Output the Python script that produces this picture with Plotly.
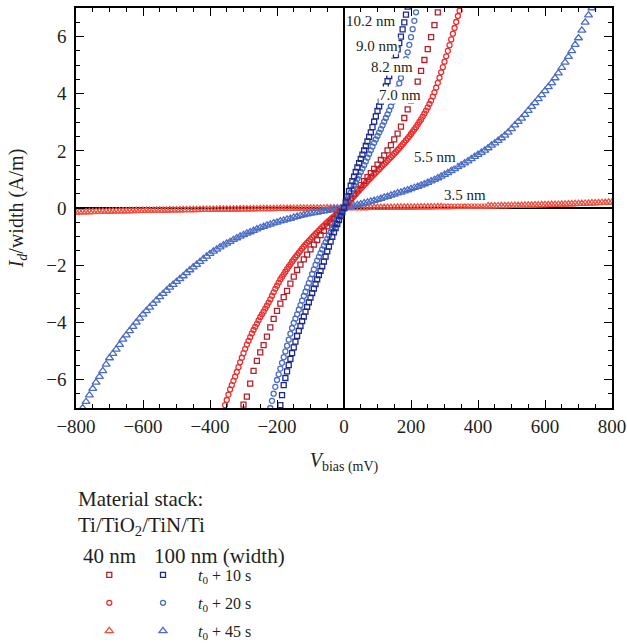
import plotly.graph_objects as go

# ---------------- data ----------------
# 40 nm width, t0 + 10 s  (8.2 nm)
v_40_10s = [-300, -290, -280, -270, -260, -250, -240, -230, -220, -210,
            -200, -190, -180, -170, -160, -150, -140, -130, -120, -110,
            -100, -90, -80, -70, -60, -50, -40, -30, -20, -10,
            0, 10, 20, 30, 40, 50, 60, 70, 80, 90,
            100, 110, 120, 130, 140, 150, 160, 170, 180, 190,
            200, 210, 220, 230, 240, 250, 260, 270, 280]
i_40_10s = [-6.88, -6.6, -6.15, -5.7, -5.35, -5.05, -4.8, -4.5, -4.18, -3.88,
            -3.6, -3.35, -3.12, -2.9, -2.65, -2.4, -2.17, -1.98, -1.8, -1.63,
            -1.45, -1.28, -1.12, -0.95, -0.8, -0.64, -0.51, -0.38, -0.25, -0.12,
            0, 0.17, 0.34, 0.5, 0.65, 0.8, 0.94, 1.08, 1.22, 1.37,
            1.52, 1.68, 1.84, 2.02, 2.2, 2.4, 2.6, 2.85, 3.15, 3.45,
            3.75, 4.07, 4.42, 4.8, 5.18, 5.56, 5.98, 6.4, 6.85]

# 40 nm width, t0 + 20 s  (7.0 nm)
v_40_20s = [-360, -355, -350, -345, -340, -335, -330, -325, -320, -315,
            -310, -305, -300, -295, -290, -285, -280, -275, -270, -265,
            -260, -255, -250, -245, -240, -235, -230, -225, -220, -215,
            -210, -205, -200, -195, -190, -185, -180, -175, -170, -165,
            -160, -155, -150, -145, -140, -135, -130, -125, -120, -115,
            -110, -105, -100, -95, -90, -85, -80, -75, -70, -65,
            -60, -55, -50, -45, -40, -35, -30, -25, -20, -15,
            -10, -5, 0, 5, 10, 15, 20, 25, 30, 35,
            40, 45, 50, 55, 60, 65, 70, 75, 80, 85,
            90, 95, 100, 105, 110, 115, 120, 125, 130, 135,
            140, 145, 150, 155, 160, 165, 170, 175, 180, 185,
            190, 195, 200, 205, 210, 215, 220, 225, 230, 235,
            240, 245, 250, 255, 260, 265, 270, 275, 280, 285,
            290, 295, 300, 305, 310, 315, 320, 325, 330, 335,
            340, 345, 350]
i_40_20s = [-7.1, -6.9, -6.72, -6.53, -6.35, -6.2, -6.05, -5.9, -5.74, -5.57,
            -5.4, -5.24, -5.08, -4.93, -4.78, -4.65, -4.52, -4.39, -4.27, -4.16,
            -4.05, -3.93, -3.82, -3.72, -3.63, -3.52, -3.42, -3.31, -3.2, -3.07,
            -2.95, -2.83, -2.72, -2.61, -2.5, -2.41, -2.32, -2.23, -2.14, -2.05,
            -1.97, -1.88, -1.8, -1.72, -1.65, -1.57, -1.5, -1.42, -1.35, -1.28,
            -1.22, -1.16, -1.1, -1.03, -0.97, -0.91, -0.85, -0.79, -0.73, -0.67,
            -0.62, -0.56, -0.5, -0.45, -0.4, -0.35, -0.3, -0.25, -0.2, -0.15,
            -0.1, -0.05, 0, 0.07, 0.14, 0.21, 0.28, 0.35, 0.42, 0.48,
            0.55, 0.61, 0.68, 0.74, 0.81, 0.87, 0.94, 1.0, 1.06, 1.12,
            1.18, 1.24, 1.3, 1.36, 1.42, 1.48, 1.54, 1.6, 1.66, 1.72,
            1.78, 1.84, 1.9, 1.96, 2.03, 2.09, 2.16, 2.23, 2.3, 2.37,
            2.44, 2.51, 2.59, 2.67, 2.75, 2.83, 2.92, 3.01, 3.1, 3.2,
            3.3, 3.41, 3.52, 3.64, 3.76, 3.9, 4.05, 4.21, 4.38, 4.56,
            4.75, 4.93, 5.12, 5.31, 5.5, 5.7, 5.9, 6.1, 6.3, 6.51,
            6.72, 6.91, 7.1]

# 40 nm width, t0 + 45 s  (3.5 nm)
v_40_45s = [-800, -790, -780, -770, -760, -750, -740, -730, -720, -710,
            -700, -690, -680, -670, -660, -650, -640, -630, -620, -610,
            -600, -590, -580, -570, -560, -550, -540, -530, -520, -510,
            -500, -490, -480, -470, -460, -450, -440, -430, -420, -410,
            -400, -390, -380, -370, -360, -350, -340, -330, -320, -310,
            -300, -290, -280, -270, -260, -250, -240, -230, -220, -210,
            -200, -190, -180, -170, -160, -150, -140, -130, -120, -110,
            -100, -90, -80, -70, -60, -50, -40, -30, -20, -10,
            0, 10, 20, 30, 40, 50, 60, 70, 80, 90,
            100, 110, 120, 130, 140, 150, 160, 170, 180, 190,
            200, 210, 220, 230, 240, 250, 260, 270, 280, 290,
            300, 310, 320, 330, 340, 350, 360, 370, 380, 390,
            400, 410, 420, 430, 440, 450, 460, 470, 480, 490,
            500, 510, 520, 530, 540, 550, 560, 570, 580, 590,
            600, 610, 620, 630, 640, 650, 660, 670, 680, 690,
            700, 710, 720, 730, 740, 750, 760, 770, 780, 790,
            800]
i_40_45s = [-0.15, -0.146, -0.143, -0.14, -0.136, -0.133, -0.13, -0.127, -0.124, -0.121,
            -0.118, -0.115, -0.112, -0.11, -0.107, -0.105, -0.102, -0.1, -0.097, -0.095,
            -0.092, -0.09, -0.088, -0.086, -0.084, -0.082, -0.08, -0.078, -0.076, -0.074,
            -0.072, -0.07, -0.068, -0.066, -0.065, -0.063, -0.061, -0.06, -0.058, -0.056,
            -0.055, -0.053, -0.052, -0.05, -0.049, -0.047, -0.046, -0.044, -0.043, -0.041,
            -0.04, -0.038, -0.037, -0.035, -0.034, -0.032, -0.031, -0.029, -0.028, -0.026,
            -0.025, -0.023, -0.022, -0.021, -0.02, -0.018, -0.017, -0.015, -0.014, -0.013,
            -0.012, -0.011, -0.01, -0.008, -0.007, -0.006, -0.005, -0.003, -0.002, -0.001,
            0, 0.001, 0.002, 0.004, 0.005, 0.006, 0.007, 0.009, 0.01, 0.011,
            0.012, 0.013, 0.014, 0.016, 0.017, 0.019, 0.02, 0.021, 0.022, 0.024,
            0.025, 0.027, 0.028, 0.03, 0.031, 0.033, 0.034, 0.036, 0.037, 0.039,
            0.04, 0.042, 0.043, 0.045, 0.047, 0.048, 0.05, 0.052, 0.054, 0.056,
            0.058, 0.06, 0.062, 0.064, 0.066, 0.068, 0.071, 0.073, 0.075, 0.078,
            0.08, 0.083, 0.085, 0.088, 0.091, 0.094, 0.097, 0.1, 0.103, 0.107,
            0.11, 0.114, 0.117, 0.121, 0.124, 0.128, 0.132, 0.136, 0.14, 0.145,
            0.15, 0.154, 0.159, 0.164, 0.169, 0.174, 0.179, 0.185, 0.19, 0.195,
            0.2]

# 100 nm width, t0 + 10 s  (10.2 nm)
v_100_10s = [-200, -195, -190, -185, -180, -175, -170, -165, -160, -155,
             -150, -145, -140, -135, -130, -125, -120, -115, -110, -105,
             -100, -95, -90, -85, -80, -75, -70, -65, -60, -55,
             -50, -45, -40, -35, -30, -25, -20, -15, -10, -5,
             0, 5, 10, 15, 20, 25, 30, 35, 40, 45,
             50, 55, 60, 65, 70, 75, 80, 85, 90, 95,
             100, 105, 110, 115, 120, 125, 130, 135, 140, 145,
             150, 155, 160, 165, 170, 175, 180, 185, 190]
i_100_10s = [-7.4, -7.15, -6.9, -6.55, -6.2, -5.95, -5.72, -5.5, -5.28, -5.08,
             -4.88, -4.68, -4.48, -4.3, -4.13, -3.96, -3.8, -3.63, -3.46, -3.3,
             -3.14, -2.98, -2.82, -2.66, -2.5, -2.35, -2.2, -2.04, -1.88, -1.7,
             -1.52, -1.35, -1.18, -1.01, -0.85, -0.7, -0.56, -0.42, -0.28, -0.14,
             0, 0.2, 0.4, 0.59, 0.78, 0.94, 1.1, 1.26, 1.42, 1.57,
             1.72, 1.87, 2.02, 2.17, 2.33, 2.49, 2.65, 2.83, 3.02, 3.21,
             3.4, 3.56, 3.72, 3.9, 4.08, 4.26, 4.44, 4.62, 4.8, 4.97,
             5.15, 5.35, 5.55, 5.77, 6.0, 6.25, 6.5, 6.77, 7.05]

# 100 nm width, t0 + 20 s  (9.0 nm)
v_100_20s = [-220, -215, -210, -205, -200, -195, -190, -185, -180, -175,
             -170, -165, -160, -155, -150, -145, -140, -135, -130, -125,
             -120, -115, -110, -105, -100, -95, -90, -85, -80, -75,
             -70, -65, -60, -55, -50, -45, -40, -35, -30, -25,
             -20, -15, -10, -5, 0, 5, 10, 15, 20, 25,
             30, 35, 40, 45, 50, 55, 60, 65, 70, 75,
             80, 85, 90, 95, 100, 105, 110, 115, 120, 125,
             130, 135, 140, 145, 150, 155, 160, 165, 170, 175,
             180, 185, 190, 195, 200, 205, 210, 215, 220]
i_100_20s = [-7.0, -6.75, -6.5, -6.26, -6.02, -5.82, -5.62, -5.42, -5.22, -5.02,
             -4.82, -4.61, -4.4, -4.2, -4.02, -3.87, -3.72, -3.56, -3.4, -3.24,
             -3.08, -2.93, -2.78, -2.63, -2.48, -2.31, -2.15, -1.99, -1.84, -1.71,
             -1.58, -1.45, -1.32, -1.2, -1.08, -0.96, -0.85, -0.74, -0.63, -0.52,
             -0.41, -0.3, -0.2, -0.1, 0, 0.14, 0.28, 0.41, 0.54, 0.66,
             0.78, 0.9, 1.02, 1.14, 1.26, 1.38, 1.5, 1.63, 1.76, 1.89,
             2.02, 2.15, 2.28, 2.4, 2.52, 2.64, 2.76, 2.89, 3.02, 3.15,
             3.28, 3.42, 3.56, 3.71, 3.86, 4.02, 4.18, 4.36, 4.55, 4.76,
             4.98, 5.21, 5.45, 5.71, 5.98, 6.26, 6.55, 6.85, 7.15]

# 100 nm width, t0 + 45 s  (5.5 nm)
v_100_45s = [-780, -770, -760, -750, -740, -730, -720, -710, -700, -690,
             -680, -670, -660, -650, -640, -630, -620, -610, -600, -590,
             -580, -570, -560, -550, -540, -530, -520, -510, -500, -490,
             -480, -470, -460, -450, -440, -430, -420, -410, -400, -390,
             -380, -370, -360, -350, -340, -330, -320, -310, -300, -290,
             -280, -270, -260, -250, -240, -230, -220, -210, -200, -190,
             -180, -170, -160, -150, -140, -130, -120, -110, -100, -90,
             -80, -70, -60, -50, -40, -30, -20, -10, 0, 10,
             20, 30, 40, 50, 60, 70, 80, 90, 100, 110,
             120, 130, 140, 150, 160, 170, 180, 190, 200, 210,
             220, 230, 240, 250, 260, 270, 280, 290, 300, 310,
             320, 330, 340, 350, 360, 370, 380, 390, 400, 410,
             420, 430, 440, 450, 460, 470, 480, 490, 500, 510,
             520, 530, 540, 550, 560, 570, 580, 590, 600, 610,
             620, 630, 640, 650, 660, 670, 680, 690, 700, 710,
             720, 730, 740]
i_100_45s = [-7.0, -6.78, -6.55, -6.32, -6.1, -5.9, -5.7, -5.47, -5.25, -5.1,
             -4.95, -4.78, -4.6, -4.45, -4.3, -4.15, -4.0, -3.86, -3.72, -3.6,
             -3.48, -3.35, -3.23, -3.11, -3.0, -2.89, -2.78, -2.68, -2.58, -2.48,
             -2.38, -2.27, -2.17, -2.07, -1.98, -1.88, -1.78, -1.69, -1.6, -1.52,
             -1.45, -1.37, -1.3, -1.24, -1.18, -1.11, -1.05, -0.99, -0.94, -0.89,
             -0.84, -0.79, -0.74, -0.69, -0.65, -0.61, -0.57, -0.53, -0.5, -0.46,
             -0.43, -0.4, -0.37, -0.33, -0.3, -0.27, -0.24, -0.21, -0.19, -0.17,
             -0.15, -0.13, -0.11, -0.09, -0.07, -0.05, -0.035, -0.018, 0, 0.025,
             0.05, 0.08, 0.11, 0.14, 0.17, 0.2, 0.23, 0.26, 0.29, 0.33,
             0.37, 0.4, 0.44, 0.48, 0.52, 0.55, 0.59, 0.63, 0.67, 0.71,
             0.75, 0.79, 0.84, 0.89, 0.94, 0.99, 1.05, 1.11, 1.17, 1.23,
             1.3, 1.37, 1.44, 1.5, 1.57, 1.64, 1.72, 1.8, 1.87, 1.94,
             2.02, 2.1, 2.19, 2.27, 2.36, 2.45, 2.54, 2.65, 2.77, 2.9,
             3.02, 3.14, 3.27, 3.41, 3.55, 3.68, 3.82, 3.96, 4.1, 4.24,
             4.38, 4.55, 4.72, 4.91, 5.1, 5.3, 5.5, 5.72, 5.95, 6.22,
             6.5, 6.75, 7.0]

# curve labels (oxide thickness) and where they sit
thickness_labels = ["10.2 nm", "9.0 nm", "8.2 nm", "7.0 nm", "5.5 nm", "3.5 nm"]
label_v = [82, 98, 142, 167, 272, 361]
label_i = [6.53, 5.68, 4.92, 3.96, 1.78, 0.47]

time_labels = ["<i>t</i><sub>0</sub> + 10 s", "<i>t</i><sub>0</sub> + 20 s", "<i>t</i><sub>0</sub> + 45 s"]

for a, b in [(v_40_10s, i_40_10s), (v_40_20s, i_40_20s), (v_40_45s, i_40_45s),
             (v_100_10s, i_100_10s), (v_100_20s, i_100_20s), (v_100_45s, i_100_45s)]:
    n = min(len(a), len(b))
    del a[n:]
    del b[n:]

# ---------------- styling ----------------
FONT = "Liberation Serif"
TXT = "#231f20"
C_40_10 = "#b3202a"
C_40_20 = "#ec2d2d"
C_40_45 = "#ee5040"
C_100_10 = "#1c2a8c"
C_100_20 = "#4a6cc4"
C_100_45 = "#4a6cc4"

fig = go.Figure()


def add(v, i, symbol, color, size, legend, name, rank):
    fig.add_trace(go.Scatter(
        x=v, y=i, mode="markers", name=name, legend=legend, legendrank=rank,
        legendgroup=legend + str(rank),
        marker=dict(symbol=symbol, size=size, color=color, line=dict(color=color, width=1.3)),
        hoverinfo="x+y",
    ))


# drawing order: flat curves first, steep ones on top
add(v_40_45s, i_40_45s, "triangle-up-open", C_40_45, 7, "legend", " ", 3)
add(v_100_45s, i_100_45s, "triangle-up-open", C_100_45, 7, "legend2", time_labels[2], 3)
add(v_40_20s, i_40_20s, "circle-open", C_40_20, 5, "legend", " ", 2)
add(v_40_10s, i_40_10s, "square-open", C_40_10, 5, "legend", " ", 1)
add(v_100_20s, i_100_20s, "circle-open", C_100_20, 5, "legend2", time_labels[1], 2)
add(v_100_10s, i_100_10s, "square-open", C_100_10, 5, "legend2", time_labels[0], 1)

axis_common = dict(
    automargin=False,
    showline=True, linecolor="black", linewidth=1.5, mirror="ticks",
    ticks="inside", ticklen=8, tickwidth=1.2, tickcolor="black",
    showgrid=False, zeroline=True, zerolinecolor="black", zerolinewidth=1.5,
    tickfont=dict(family=FONT, size=19, color=TXT),
)

fig.update_layout(
    width=627, height=643,
    margin=dict(l=76, r=15, t=8, b=235, autoexpand=False),
    paper_bgcolor="white", plot_bgcolor="white",
    font=dict(family=FONT, color=TXT),
    xaxis=dict(range=[-800, 800], tick0=0, dtick=200,
               minor=dict(ticks="inside", ticklen=4, dtick=50, tickcolor="black", tickwidth=1.2),
               title=dict(text="<i>V</i><sub>bias (mV)</sub>", font=dict(family=FONT, size=20, color=TXT),
                          standoff=17),
               **axis_common),
    yaxis=dict(range=[-7, 7], tick0=0, dtick=2,
               minor=dict(ticks="inside", ticklen=4, dtick=0.5, tickcolor="black", tickwidth=1.2),
               title=dict(text="<i>I<sub>d</sub></i>/width (A/m)", font=dict(family=FONT, size=20, color=TXT),
                          standoff=17),
               ticklabelstandoff=4,
               **axis_common),
    legend=dict(x=0.0248, y=-0.3747, xanchor="left", yanchor="top", bgcolor="rgba(0,0,0,0)",
                itemwidth=30, tracegroupgap=4.2, traceorder="grouped",
                font=dict(family=FONT, size=16, color=TXT)),
    legend2=dict(x=0.097, y=-0.3747, xanchor="left", yanchor="top", bgcolor="rgba(0,0,0,0)",
                 itemwidth=60, tracegroupgap=4.2, traceorder="grouped",
                 font=dict(family=FONT, size=16, color=TXT)),
)

# thickness labels next to the curves (white box masks the markers behind, as in the original)
for t, x, y in zip(thickness_labels, label_v, label_i):
    fig.add_annotation(x=x, y=y, xref="x", yref="y", text=t, showarrow=False, bgcolor="white",
                       borderpad=0, font=dict(family=FONT, size=15, color=TXT),
                       xanchor="center", yanchor="middle")

# legend headings
headings = [
    ("Material stack:", 0.0, -0.2275, 21),
    ("Ti/TiO<sub>2</sub>/TiN/Ti", 0.0, -0.295, 21),
    ("40 nm", 0.0093, -0.37, 21),
    ("100 nm (width)", 0.1422, -0.37, 21),
]
for t, x, y, s in headings:
    fig.add_annotation(x=x, y=y, xref="paper", yref="paper", text=t, showarrow=False,
                       font=dict(family=FONT, size=s, color=TXT), xanchor="left", yanchor="middle")

# the page's default 8px body margin would shift the chart; remove it
fig.write_html("out.html", config={"displayModeBar": False},
               post_script="document.body.style.margin='0';")
